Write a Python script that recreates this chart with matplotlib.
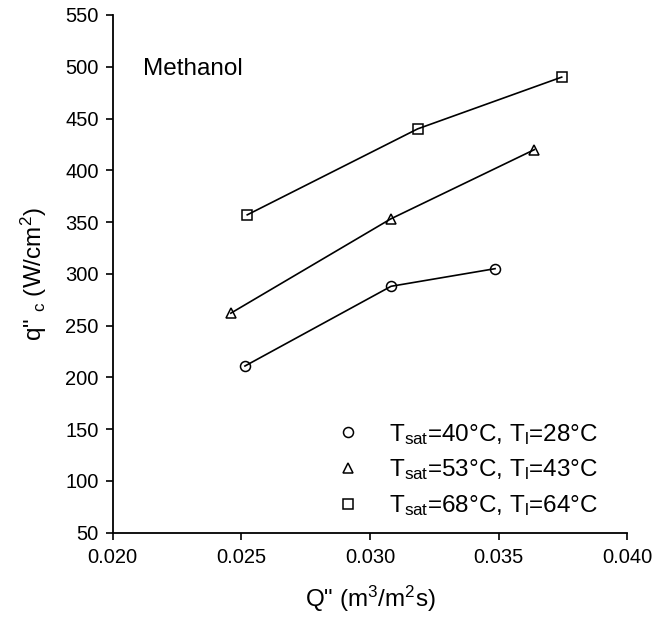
import matplotlib
matplotlib.use("Agg")
import matplotlib.pyplot as plt
from matplotlib.lines import Line2D

plt.rcParams['font.family'] = ['Liberation Sans', 'DejaVu Sans']
plt.rcParams['mathtext.fontset'] = 'custom'
plt.rcParams['mathtext.rm'] = 'Liberation Sans'
plt.rcParams['mathtext.it'] = 'Liberation Sans:italic'

# flux Q" (m3/m2s) and CHF q"c (W/cm2) for three conditions
q_flux_40 = [0.02514, 0.03082, 0.03486]
chf_40 = [211, 288, 305]
q_flux_53 = [0.02459, 0.03080, 0.03639]
chf_53 = [262, 353, 420]
q_flux_68 = [0.02523, 0.03185, 0.03745]
chf_68 = [357, 440, 490]

labels = [r'T$_{\mathrm{sat}}$=40°C, T$_{\mathrm{l}}$=28°C',
          r'T$_{\mathrm{sat}}$=53°C, T$_{\mathrm{l}}$=43°C',
          r'T$_{\mathrm{sat}}$=68°C, T$_{\mathrm{l}}$=64°C']
markers = ['o', '^', 's']

xticks = [0.020, 0.025, 0.030, 0.035, 0.040]
yticks = list(range(50, 551, 50))

fig = plt.figure(figsize=(6.54, 6.17), dpi=100)
ax = fig.add_axes([0.1723, 0.1366, 0.9592 - 0.1723, 0.9757 - 0.1366])

series = [(q_flux_40, chf_40), (q_flux_53, chf_53), (q_flux_68, chf_68)]
handles = []
for (xs, ys), m, lab in zip(series, markers, labels):
    ms = 7.6 if m == 's' else 7.2
    ax.plot(xs, ys, color='black', lw=1.2, marker=m, ms=ms,
            mfc='none', mec='black', mew=1.1)
    handles.append(Line2D([], [], ls='none', marker=m, ms=ms, mfc='none',
                          mec='black', mew=1.1, label=lab))

ax.set_xlim(0.020, 0.040)
ax.set_ylim(50, 550)
ax.set_xticks(xticks)
ax.set_xticklabels([f'{v:.3f}' for v in xticks])
ax.set_yticks(yticks)

for s in ['top', 'right']:
    ax.spines[s].set_visible(False)
for s in ['left', 'bottom']:
    ax.spines[s].set_linewidth(1.3)
ax.tick_params(axis='both', direction='out', length=5, width=1.2,
               labelsize=14.5, pad=5)
ax.tick_params(axis='x', pad=6)

ax.set_xlabel(r'Q" (m$^{3}$/m$^{2}$s)', fontsize=17.5, labelpad=12)
ax.set_ylabel(r'q" $_{\mathrm{c}}$ (W/cm$^{2}$)', fontsize=17.5, labelpad=12)

ax.text(0.059, 0.896, 'Methanol', transform=ax.transAxes, fontsize=17.5,
        va='center', ha='left')

ax.legend(handles=handles, loc='lower right', frameon=False, fontsize=17.5,
          handlelength=1.0, handletextpad=1.2, labelspacing=0.45,
          borderaxespad=0.3, bbox_to_anchor=(0.977, -0.005))

fig.savefig('out.png', dpi=100)
